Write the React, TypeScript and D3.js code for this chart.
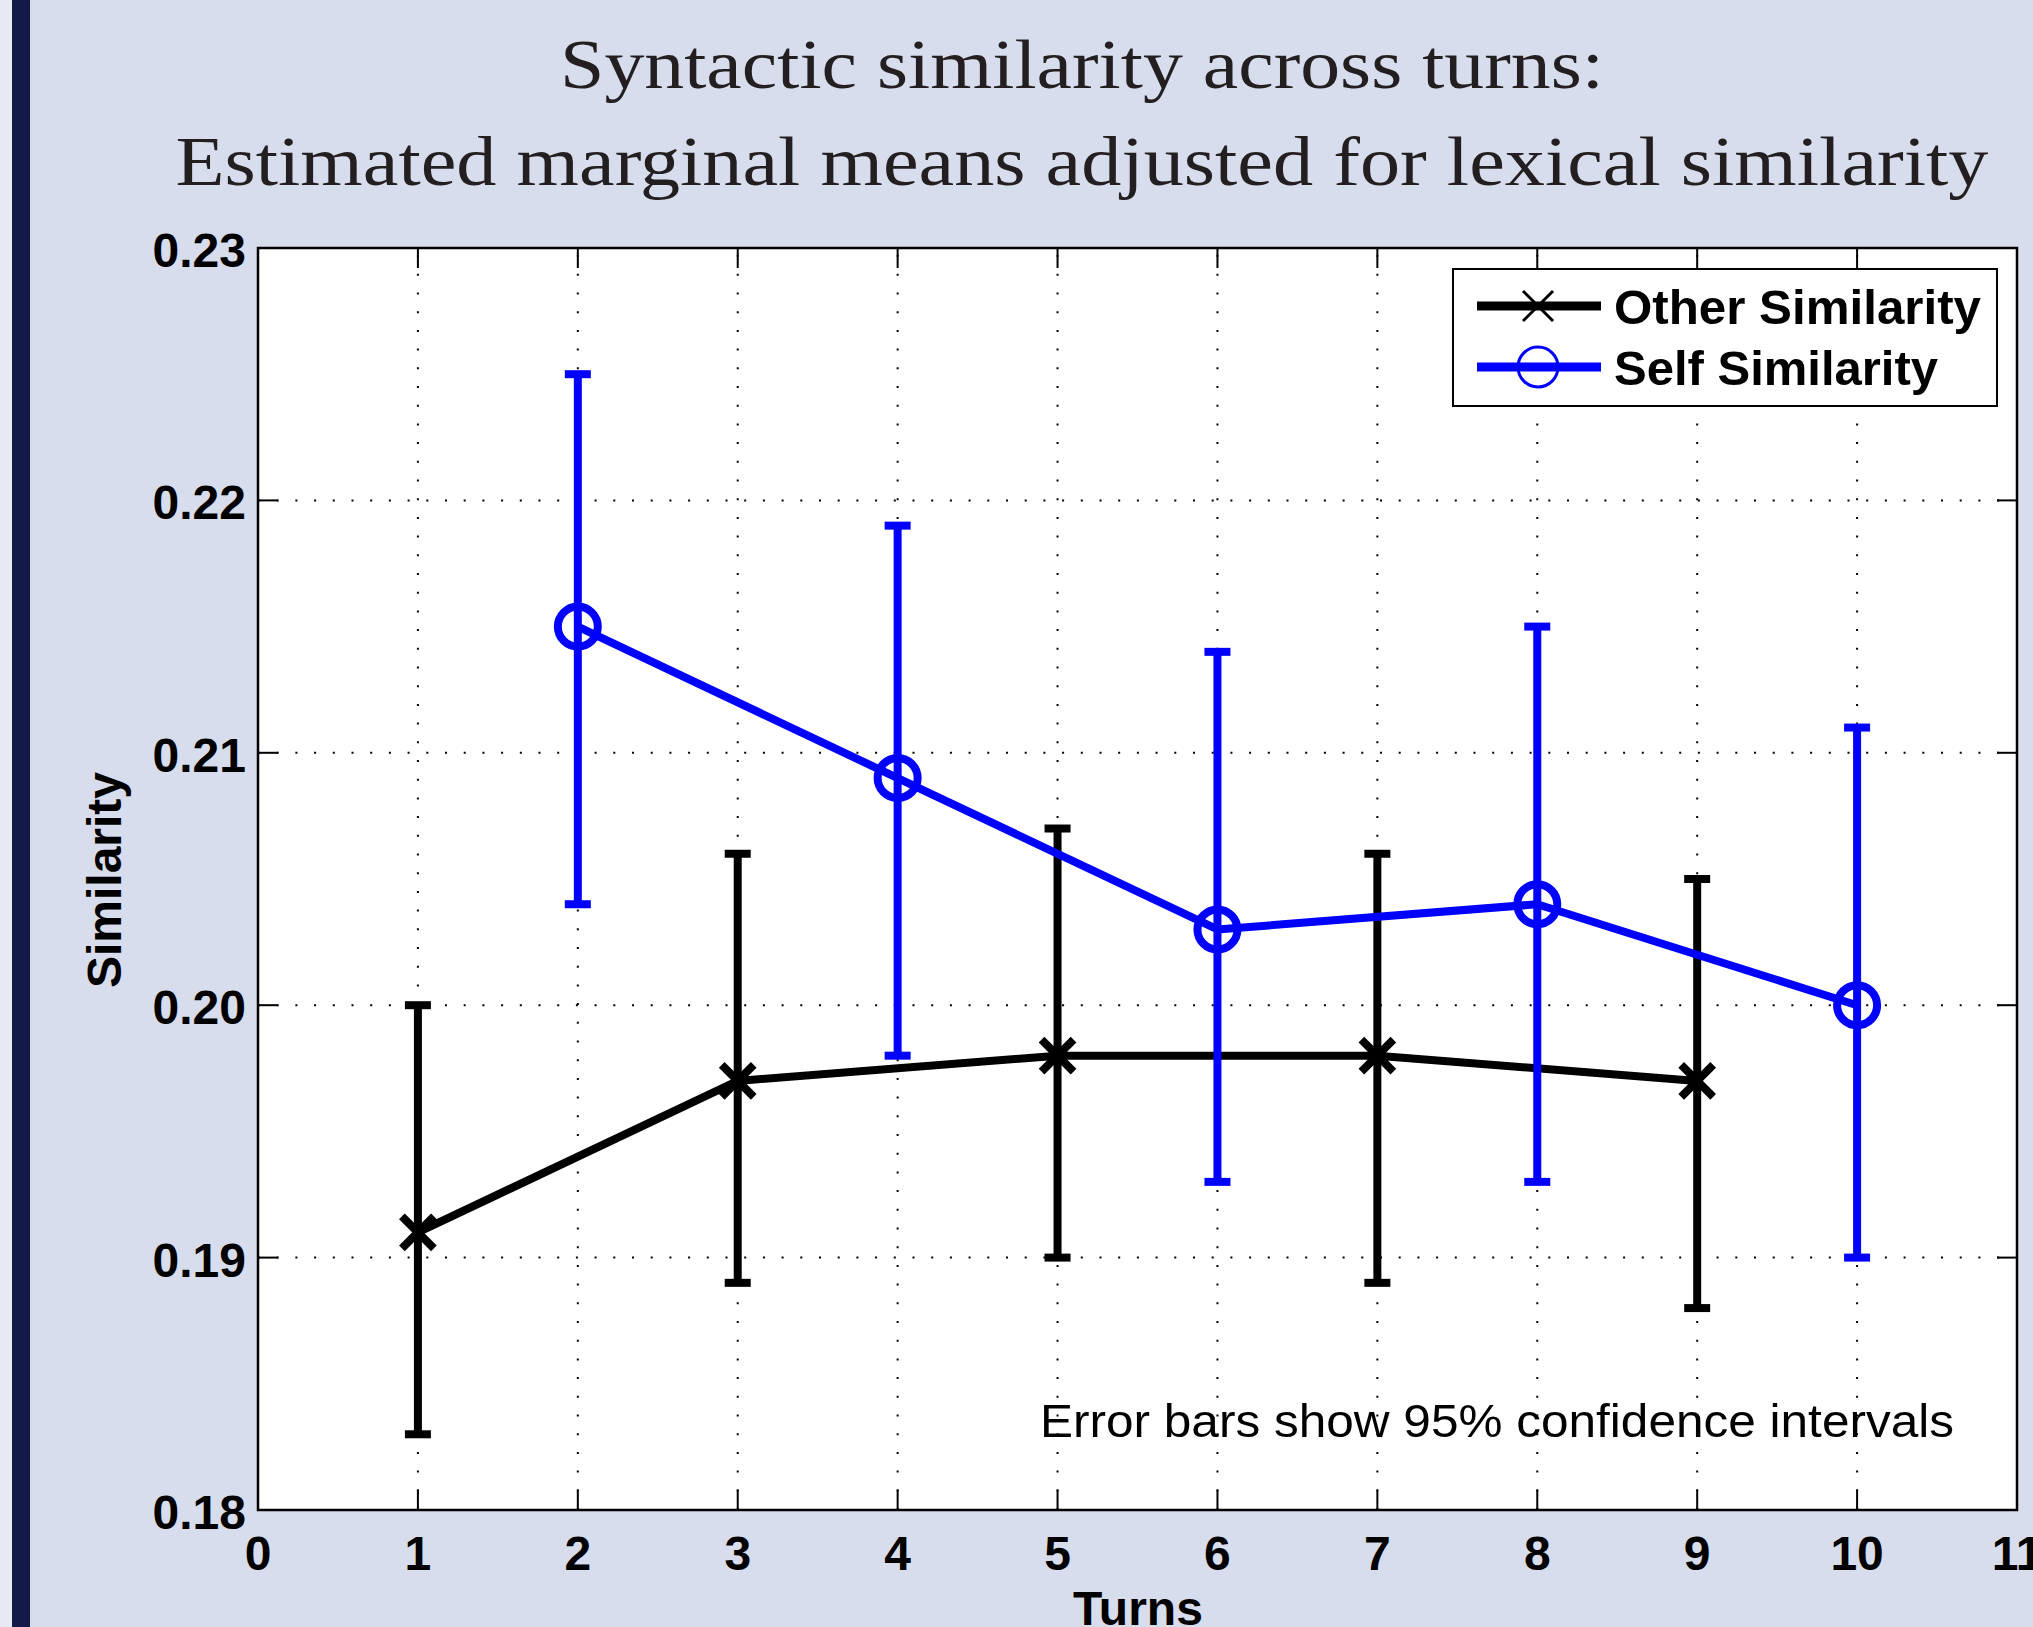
import React from "react";
import * as d3 from "d3";

const W = 2033;
const H = 1627;

const titleLines = [
  "Syntactic similarity across turns:",
  "Estimated marginal means adjusted for lexical similarity",
];
const xTicks = [0, 1, 2, 3, 4, 5, 6, 7, 8, 9, 10, 11];
const yTicks = [0.18, 0.19, 0.2, 0.21, 0.22, 0.23];
const xGrid = [1, 2, 3, 4, 5, 6, 7, 8, 9, 10];
const yGrid = [0.19, 0.2, 0.21, 0.22];

const otherTurns = [1, 3, 5, 7, 9];
const otherMean = [0.191, 0.197, 0.198, 0.198, 0.197];
const otherLower = [0.183, 0.189, 0.19, 0.189, 0.188];
const otherUpper = [0.2, 0.206, 0.207, 0.206, 0.205];

const selfTurns = [2, 4, 6, 8, 10];
const selfMean = [0.215, 0.209, 0.203, 0.204, 0.2];
const selfLower = [0.204, 0.198, 0.193, 0.193, 0.19];
const selfUpper = [0.225, 0.219, 0.214, 0.215, 0.211];

const seriesNames = ["Other Similarity", "Self Similarity"];
const noteText = "Error bars show 95% confidence intervals";

export default function App() {
  const left = 258, right = 2017, top = 248, bottom = 1510;
  const x = d3.scaleLinear().domain([0, 11]).range([left, right]);
  const y = d3.scaleLinear().domain([0.18, 0.23]).range([bottom, top]);
  const line = d3
    .line<[number, number]>()
    .x((d) => x(d[0]))
    .y((d) => y(d[1]));

  const series = [
    { turns: otherTurns, mean: otherMean, lo: otherLower, hi: otherUpper, color: "#000000", marker: "x" },
    { turns: selfTurns, mean: selfMean, lo: selfLower, hi: selfUpper, color: "#0000ff", marker: "o" },
  ];

  const sans = "'Liberation Sans', Arial, Helvetica, sans-serif";
  const serif = "'Liberation Serif', 'DejaVu Serif', serif";
  const tick = 20;
  const cap = 13;
  const legendTextLen = [367, 324];

  return (
    <svg
      width={W}
      height={H}
      viewBox={`0 0 ${W} ${H}`}
      style={{ position: "absolute", left: 0, top: 0, display: "block" }}
    >
      <rect x={0} y={0} width={W} height={H} fill="#d7ddec" />
      <rect x={0} y={0} width={12} height={H} fill="#e7eaf5" />
      <rect x={12} y={0} width={18} height={H} fill="#141a48" />

      {/* title */}
      <text x={1082} y={88} textAnchor="middle" fontFamily={serif} fontSize={70} fill="#231f20"
        textLength={1044} lengthAdjust="spacingAndGlyphs">
        {titleLines[0]}
      </text>
      <text x={1082} y={185} textAnchor="middle" fontFamily={serif} fontSize={70} fill="#231f20"
        textLength={1813} lengthAdjust="spacingAndGlyphs">
        {titleLines[1]}
      </text>

      {/* plot area */}
      <rect x={left} y={top} width={right - left} height={bottom - top} fill="#ffffff" />

      {/* grid */}
      <g stroke="#000" strokeWidth={2} strokeDasharray="2 16.7" fill="none">
        {xGrid.map((t) => (
          <line key={"gx" + t} x1={x(t)} x2={x(t)} y1={bottom} y2={top} />
        ))}
        {yGrid.map((t) => (
          <line key={"gy" + t} x1={left} x2={right} y1={y(t)} y2={y(t)} />
        ))}
      </g>

      {/* ticks */}
      <g stroke="#000" strokeWidth={2}>
        {xTicks.map((t) => (
          <g key={"tx" + t}>
            <line x1={x(t)} x2={x(t)} y1={bottom} y2={bottom - tick} />
            <line x1={x(t)} x2={x(t)} y1={top} y2={top + tick} />
          </g>
        ))}
        {yTicks.map((t) => (
          <g key={"ty" + t}>
            <line x1={left} x2={left + tick} y1={y(t)} y2={y(t)} />
            <line x1={right} x2={right - tick} y1={y(t)} y2={y(t)} />
          </g>
        ))}
      </g>

      {/* series */}
      {series.map((s, si) => {
        const pts = s.turns.map((t, i) => [t, s.mean[i]] as [number, number]);
        return (
          <g key={"s" + si} stroke={s.color} strokeWidth={8} fill="none">
            <path d={line(pts) || ""} strokeLinejoin="round" />
            {s.turns.map((t, i) => (
              <g key={"e" + i}>
                <line x1={x(t)} x2={x(t)} y1={y(s.lo[i])} y2={y(s.hi[i])} />
                <line x1={x(t) - cap} x2={x(t) + cap} y1={y(s.lo[i])} y2={y(s.lo[i])} />
                <line x1={x(t) - cap} x2={x(t) + cap} y1={y(s.hi[i])} y2={y(s.hi[i])} />
              </g>
            ))}
            {s.turns.map((t, i) => {
              const cx = x(t), cy = y(s.mean[i]);
              if (s.marker === "o") {
                return <circle key={"m" + i} cx={cx} cy={cy} r={20} />;
              }
              const k = 16;
              return (
                <g key={"m" + i}>
                  <line x1={cx - k} y1={cy - k} x2={cx + k} y2={cy + k} />
                  <line x1={cx - k} y1={cy + k} x2={cx + k} y2={cy - k} />
                </g>
              );
            })}
          </g>
        );
      })}

      {/* border */}
      <rect x={left} y={top} width={right - left} height={bottom - top} fill="none" stroke="#000" strokeWidth={2.5} />

      {/* tick labels */}
      <g fontFamily={sans} fontWeight="bold" fontSize={48} fill="#000">
        {xTicks.map((t) => (
          <text key={"lx" + t} x={x(t)} y={1570} textAnchor="middle">
            {String(t)}
          </text>
        ))}
        {yTicks.map((t) => (
          <text key={"ly" + t} x={246} y={y(t) + 19} textAnchor="end">
            {d3.format(".2f")(t)}
          </text>
        ))}
      </g>

      {/* axis labels */}
      <text x={1138} y={1625} textAnchor="middle" fontFamily={sans} fontWeight="bold" fontSize={48}>
        Turns
      </text>
      <text transform="translate(121,880) rotate(-90)" textAnchor="middle" fontFamily={sans} fontWeight="bold" fontSize={48}>
        Similarity
      </text>

      {/* note */}
      <text x={1040} y={1437} fontFamily={sans} fontSize={47} fill="#000" textLength={914} lengthAdjust="spacingAndGlyphs">
        {noteText}
      </text>

      {/* legend */}
      <g>
        <rect x={1453} y={269} width={544} height={137} fill="#fff" stroke="#000" strokeWidth={2} />
        {series.map((s, i) => {
          const ly = 306 + i * 61;
          return (
            <g key={"lg" + i}>
              <line x1={1477} x2={1601} y1={ly} y2={ly} stroke={s.color} strokeWidth={9} />
              {s.marker === "o" ? (
                <circle cx={1538} cy={ly} r={20} fill="none" stroke={s.color} strokeWidth={3} />
              ) : (
                <g stroke={s.color} strokeWidth={3}>
                  <line x1={1523} y1={ly - 15} x2={1553} y2={ly + 15} />
                  <line x1={1523} y1={ly + 15} x2={1553} y2={ly - 15} />
                </g>
              )}
              <text x={1614} y={ly + 18} fontFamily={sans} fontWeight="bold" fontSize={49} fill="#000"
                textLength={legendTextLen[i]} lengthAdjust="spacingAndGlyphs">
                {seriesNames[i]}
              </text>
            </g>
          );
        })}
      </g>
    </svg>
  );
}
